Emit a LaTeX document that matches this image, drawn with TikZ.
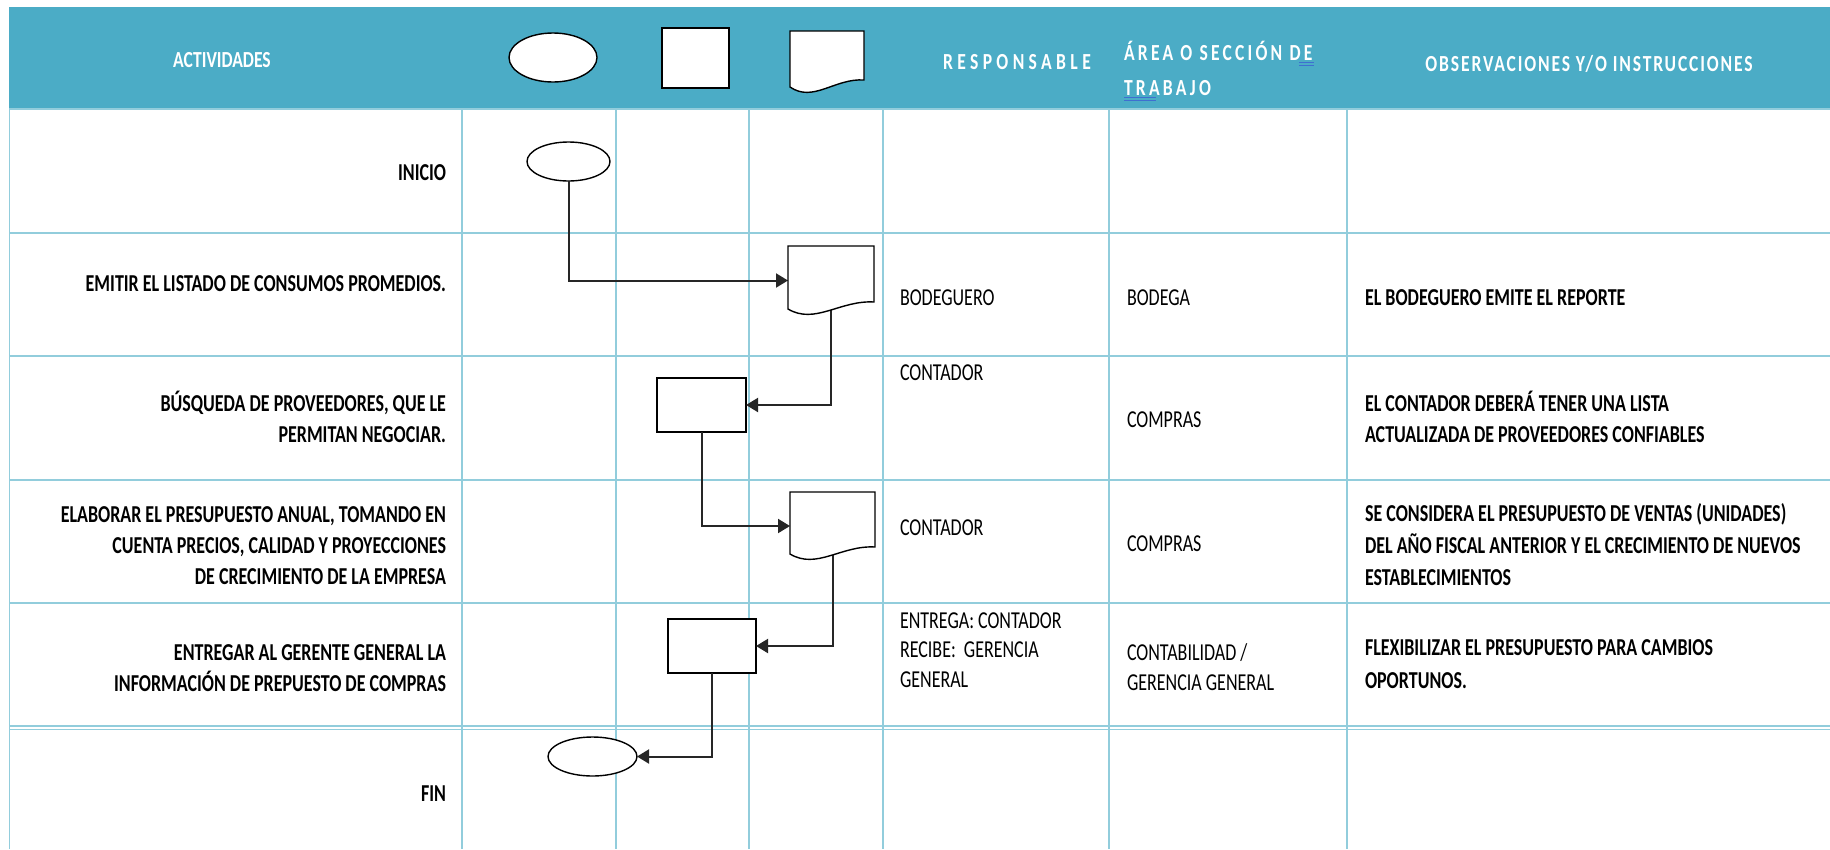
\documentclass[tikz,border=0pt]{standalone}
\usepackage{fontspec}
\setmainfont{Carlito}[FakeStretch=0.74]
\newfontfamily\hdrfont{Carlito}[FakeStretch=0.765]
\usetikzlibrary{arrows.meta,calc,shapes.geometric}
\definecolor{band}{HTML}{4BACC6}
\definecolor{gridc}{HTML}{92CDDC}
\definecolor{ulc}{HTML}{3F6FD0}
\newcommand\docoutline[1]{%
  \path[shp] (#1.north west) -- (#1.north east) -- ($(#1.south east)+(0,-13)$)
    .. controls ($(#1.south east)!0.395!(#1.south west)+(0,-15)$) and ($(#1.south east)!0.686!(#1.south west)+(0,10)$)
    .. ($(#1.south west)+(0,-6)$) -- cycle;}
\begin{document}
\begin{tikzpicture}[x=1pt,y=-1pt,
  every node/.style={inner sep=0pt, outer sep=0pt},
  body/.style={font=\fontsize{24.3}{31}\selectfont, text=black},
  bodyb/.style={font=\fontsize{24.3}{31}\selectfont\bfseries, text=black},
  act/.style={bodyb, align=right, anchor=base east},
  cell/.style={body, align=left, anchor=base west},
  obs/.style={bodyb, align=left, anchor=base west},
  hdr/.style={font=\hdrfont\fontsize{23}{35}\selectfont\bfseries, text=white},
  gridline/.style={draw=gridc, line width=1.5pt},
  shp/.style={draw=black, line width=1.4pt, fill=white},
  termnode/.style={shp, ellipse},
  procnode/.style={shp, rectangle},
  docbody/.style={rectangle},
  conn/.style={draw=black!85, line width=2pt, -{Triangle[length=12pt,width=14pt]}},
]
\useasboundingbox (0,0) rectangle (1830,849);

% grid
\foreach \yy in {109,233,356,480,603,726,729.5}
  \draw[gridline] (9,\yy) -- (1830,\yy);
\foreach \xx in {9.5,462,616,749,883,1109,1347}
  \draw[gridline] (\xx,108) -- (\xx,849);

% header band
\fill[band] (9,7) rectangle (1830,108);

\node[hdr, anchor=base] (hAct) at (222,67.5) {ACTIVIDADES};
\node[termnode, minimum width=88, minimum height=49] (hEll) at (553,57.5) {};
\node[procnode, minimum width=67, minimum height=60] (hSq) at (695.5,58) {};
\node[docbody, minimum width=74, minimum height=62] (hDoc) at (827,62) {};
\docoutline{hDoc}
\node[hdr, anchor=base west, font=\hdrfont\fontsize{23}{35}\selectfont\bfseries\addfontfeature{LetterSpace=19}] (hResp) at (943,69) {RESPONSABLE};
\node[hdr, anchor=base west, align=left, font=\hdrfont\fontsize{23}{35}\selectfont\bfseries\addfontfeature{LetterSpace=14}] (hArea) at (1124,95) {ÁREA O SECCIÓN DE\\TRABAJO};
\node[hdr, anchor=base, font=\hdrfont\fontsize{23}{35}\selectfont\bfseries\addfontfeature{LetterSpace=8}] (hObs) at (1589,71) {OBSERVACIONES Y/O INSTRUCCIONES};
\draw[ulc, line width=0.9pt] (1299,62.5) -- (1314,62.5) (1299,65.5) -- (1314,65.5);
\draw[ulc, line width=0.9pt] (1124,97.5) -- (1156,97.5) (1124,100.5) -- (1156,100.5);

% activities
\node[act] (a0) at (446,180) {INICIO};
\node[act] (a1) at (446,291) {EMITIR EL LISTADO DE CONSUMOS PROMEDIOS.};
\node[act] (a2) at (446,442) {BÚSQUEDA DE PROVEEDORES, QUE LE\\PERMITAN NEGOCIAR.};
\node[act] (a3) at (446,584) {ELABORAR EL PRESUPUESTO ANUAL, TOMANDO EN\\CUENTA PRECIOS, CALIDAD Y PROYECCIONES\\DE CRECIMIENTO DE LA EMPRESA};
\node[act] (a4) at (446,691) {ENTREGAR AL GERENTE GENERAL LA\\INFORMACIÓN DE PREPUESTO DE COMPRAS};
\node[act] (a5) at (446,801) {FIN};

% responsable
\node[cell] (r1t) at (900,305) {BODEGUERO};
\node[cell] (r2t) at (900,380) {CONTADOR};
\node[cell] (r3t) at (900,535) {CONTADOR};
\node[cell, font=\fontsize{24.3}{29.5}\selectfont] (r4t) at (900,687) {ENTREGA: CONTADOR\\RECIBE:\ \ GERENCIA\\GENERAL};

% area
\node[cell] (s1t) at (1127,305) {BODEGA};
\node[cell] (s2t) at (1127,427) {COMPRAS};
\node[cell] (s3t) at (1127,551) {COMPRAS};
\node[cell, font=\fontsize{24.3}{30}\selectfont] (s4t) at (1127,690) {CONTABILIDAD /\\GERENCIA GENERAL};

% observaciones
\node[obs] (o1t) at (1365,305) {EL BODEGUERO EMITE EL REPORTE};
\node[obs] (o2t) at (1365,442) {EL CONTADOR DEBERÁ TENER UNA LISTA\\ACTUALIZADA DE PROVEEDORES CONFIABLES};
\node[obs, font=\fontsize{24.3}{32}\selectfont\bfseries] (o3t) at (1365,585) {SE CONSIDERA EL PRESUPUESTO DE VENTAS (UNIDADES)\\DEL AÑO FISCAL ANTERIOR Y EL CRECIMIENTO DE NUEVOS\\ESTABLECIMIENTOS};
\node[obs, font=\fontsize{24.3}{33}\selectfont\bfseries] (o4t) at (1365,688) {FLEXIBILIZAR EL PRESUPUESTO PARA CAMBIOS\\OPORTUNOS.};

% flow
\node[termnode, minimum width=83, minimum height=39] (ini) at (568.5,161.5) {};
\node[docbody, minimum width=86, minimum height=69] (d1) at (831,280.5) {};
\node[procnode, minimum width=89, minimum height=54] (p1) at (701.5,405) {};
\node[docbody, minimum width=85, minimum height=68] (d2) at (832.5,526) {};
\node[procnode, minimum width=88, minimum height=54] (p2) at (712,646) {};
\node[termnode, minimum width=89, minimum height=39] (fin) at (592.5,756.5) {};

\draw[conn] (ini.south) |- (d1.west);
\draw[conn] ([yshift=5pt]d1.south) |- (p1.east);
\draw[conn] (p1.south) |- (d2.west);
\draw[conn] ([yshift=5pt]d2.south) |- (p2.east);
\draw[conn] (p2.south) |- (fin.east);
\docoutline{d1}
\docoutline{d2}
\end{tikzpicture}
\end{document}
